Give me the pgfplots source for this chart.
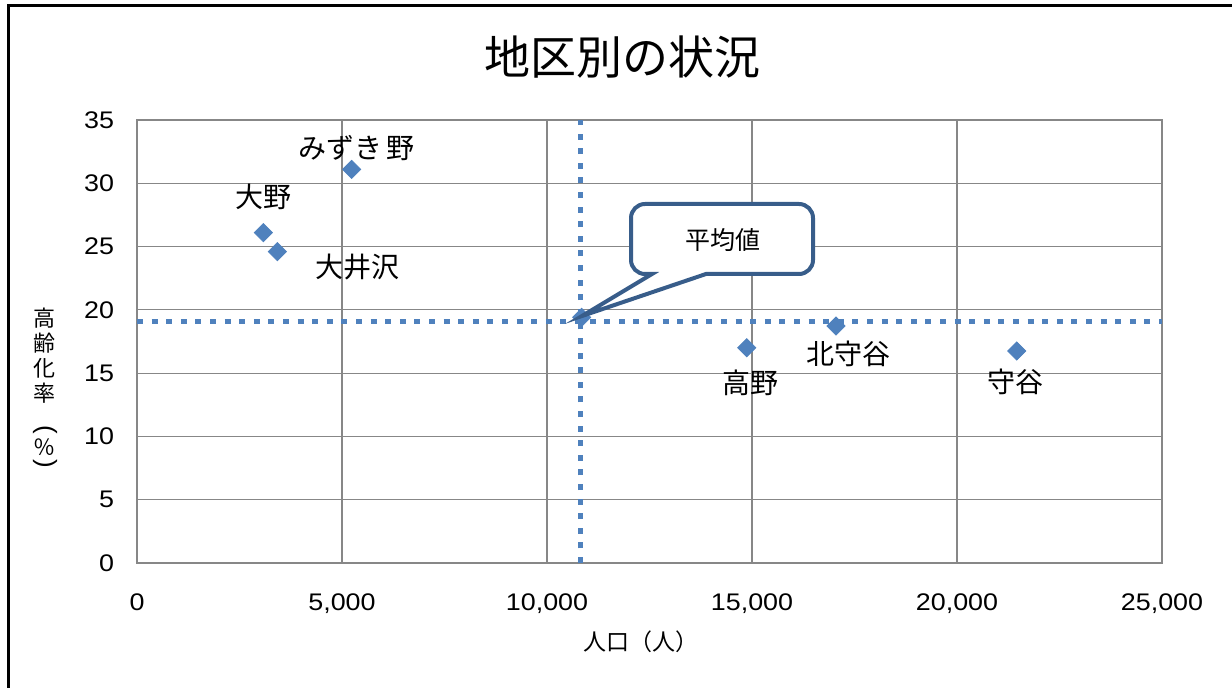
\documentclass[border=0pt]{standalone}
\usepackage{fontspec}
\usepackage{graphicx}
\setmainfont{Liberation Sans}
\newfontfamily\jp{Noto Sans CJK JP}
\newfontfamily\tickfont[FakeStretch=1.12]{Liberation Sans}
\usepackage{pgfplots}
\pgfplotsset{compat=1.18}
\definecolor{mk}{HTML}{4F81BD}
\definecolor{callout}{HTML}{385D8A}
\definecolor{gridc}{HTML}{878787}
\begin{document}
\begin{tikzpicture}
\begin{axis}[
  scale only axis, width=512.5bp, height=221.5bp,
  xmin=0, xmax=25000, ymin=0, ymax=35,
  xtick={0,5000,10000,15000,20000,25000},
  ytick={0,5,10,15,20,25,30,35},
  grid=major,
  major grid style={gridc, line width=0.6bp},
  axis line style={gridc, line width=0.6bp},
  major tick length=0pt,
  tick label style={font=\tickfont\fontsize{12bp}{14bp}\selectfont},
  /pgf/number format/assume math mode=true,
  /pgf/number format/1000 sep={,},
  scaled x ticks=false,
  xticklabel style={yshift=-12bp},
  yticklabel style={xshift=-8bp},
  clip=false,
]
\coordinate (O) at (rel axis cs:0,0);
% mean lines
\addplot[mk, line width=2.6bp, dash pattern=on 3bp off 4.3bp] coordinates {(0,19.1) (25000,19.1)};
\addplot[mk, line width=2.6bp, dash pattern=on 3bp off 4.3bp] coordinates {(10822,0) (10822,35)};
% districts and average
\addplot[only marks, mark=square*, mark size=3.2bp, mark options={rotate=45, fill=mk, draw=mk}]
  coordinates {(3081,26.1) (3422,24.6) (5237,31.1) (14871,17.01) (17049,18.72) (21456,16.75) (10846,19.41)};
\end{axis}
\begin{scope}[shift={(O)}, shift={(-68.5bp,281.5bp)}, x=0.5bp, y=-0.5bp]
  \pgfresetboundingbox
  \path[use as bounding box] (0,0) rectangle (1232,687);
  % frame
  \draw[black, line width=1.5bp] (8.5,720) -- (8.5,6) -- (1240,6);
  % title
  \node[font=\jp\fontsize{23bp}{26bp}\selectfont, inner sep=0pt] at (622,57) {地区別の状況};
  % axis labels
  \node[font=\jp\fontsize{11.5bp}{13bp}\selectfont, inner sep=0pt] at (640.5,641.5) {人口（人）};
  \begin{scope}[every node/.style={font=\jp\fontsize{11bp}{12.5bp}\selectfont, inner sep=0pt}]
    \node at (45,318) {高};
    \node at (45,343) {齢};
    \node at (45,368) {化};
    \node at (45,393) {率};
    \node[font=\fontsize{13bp}{14bp}\selectfont] at (45,430) {\rotatebox{-90}{(}};
    \node at (45,447) {％};
    \node[font=\fontsize{13bp}{14bp}\selectfont] at (45,464) {\rotatebox{-90}{)}};
  \end{scope}
  % data labels
  \begin{scope}[every node/.style={font=\jp\fontsize{14bp}{16bp}\selectfont, inner sep=0pt}]
    \node at (356.7,148.3) {みずき\hspace{2bp}野};
    \node at (263.3,196.7) {大野};
    \node at (357.5,266.7) {大井沢};
    \node at (750.8,382.5) {高野};
    \node at (848.3,354) {北守谷};
    \node at (1015.8,381.5) {守谷};
  \end{scope}
  % callout
  \draw[callout, line width=2bp, fill=white, rounded corners=7bp]
    (652,274) -- (631,274) -- (631,204) -- (813,204) -- (813,274)
    [sharp corners] -- (706,274) -- (582,316) -- cycle;
  \node[font=\jp\fontsize{12.5bp}{14bp}\selectfont, inner sep=0pt] at (723,240) {平均値};
\end{scope}
\end{tikzpicture}
\end{document}
